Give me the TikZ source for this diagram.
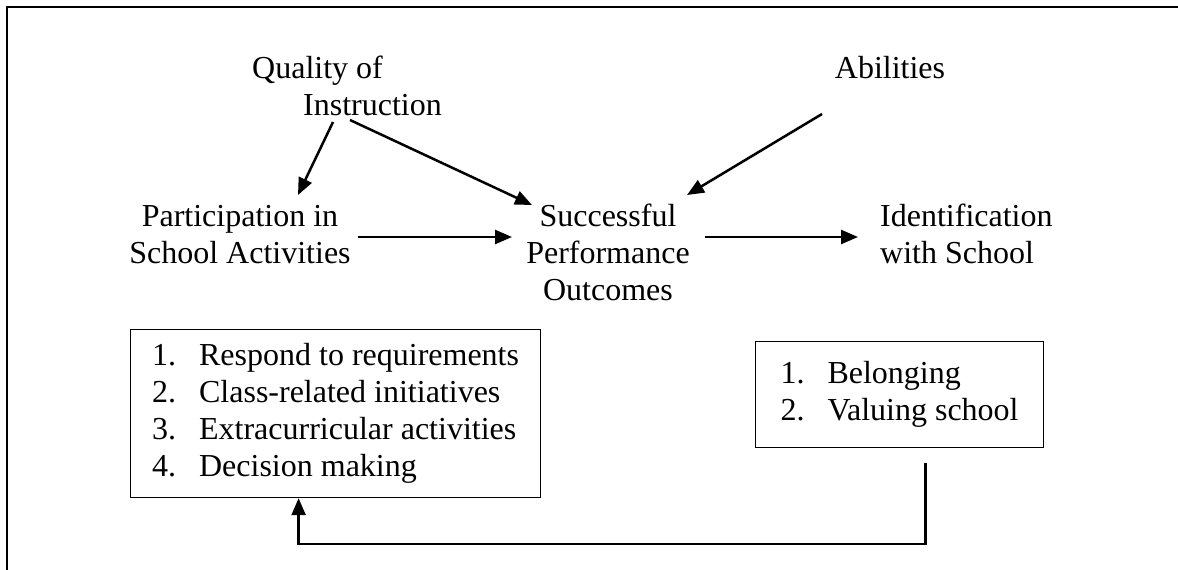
\documentclass[tikz,border=0pt]{standalone}
\usepackage{fontspec}
\setmainfont{Liberation Serif}
\usetikzlibrary{arrows.meta,calc}
\tikzset{
  txt/.style={inner sep=0pt, font=\fontsize{32}{37}\selectfont},
  arr/.style={line width=2.5pt, -{Triangle[length=17pt,width=14pt]}},
  frameline/.style={line width=2.5pt},
  listbox/.style={draw, line width=1.2pt, inner sep=0pt, font=\fontsize{32}{37}\selectfont, anchor=north west},
}
\newcommand{\itm}[2]{\makebox[47pt][l]{#1}#2}
\begin{document}
\begin{tikzpicture}[x=1pt,y=-1pt]
\useasboundingbox (0,0) rectangle (1178,570);
\draw[frameline] (1178,7) -- (7,7) -- (7,570);
\node[txt, anchor=base west] (qual) at (252,78) {\begin{tabular}[t]{@{}l@{}}Quality of\\\hspace{51pt}Instruction\end{tabular}};
\node[txt, anchor=base] (abil) at (890,78) {Abilities};
\node[txt, anchor=base] (part) at (240,226) {\begin{tabular}[t]{@{}c@{}}Participation in\\School Activities\end{tabular}};
\node[txt, anchor=base] (succ) at (608,226) {\begin{tabular}[t]{@{}c@{}}Successful\\Performance\\Outcomes\end{tabular}};
\node[txt, anchor=base west] (ident) at (880,226) {\begin{tabular}[t]{@{}l@{}}Identification\\with School\end{tabular}};
\node[listbox, minimum width=410pt, minimum height=168pt] (lbox) at (130,329) {\begin{tabular}{@{}l@{}}\itm{1.}{Respond to requirements}\\\itm{2.}{Class-related initiatives}\\\itm{3.}{Extracurricular activities}\\\itm{4.}{Decision making}\end{tabular}};
\node[listbox, minimum width=288pt, minimum height=106pt] (rbox) at (755,341) {\begin{tabular}{@{}l@{}}\itm{1.}{Belonging}\\\itm{2.}{Valuing school}\end{tabular}};
\draw[arr] ($(qual.base west)+(81,44)$) -- ($(part.base)+(58,-31)$);
\draw[arr] ($(qual.base west)+(98,42)$) -- ($(succ.base)+(-76,-21)$);
\draw[arr] ($(abil.base)+(-68,36)$) -- ($(succ.base)+(79,-31)$);
\draw[arr] ($(part.base)+(118,11)$) -- ($(succ.base)+(-96,11)$);
\draw[arr] ($(succ.base)+(97,11)$) -- ($(ident.base west)+(-22,11)$);
\coordinate (fb) at ($(rbox.south)+(26,15)$);
\coordinate (lb) at ($(lbox.south)+(-37,0)$);
\draw[arr] (fb) -- ++(0,81) -| (lb);
\end{tikzpicture}
\end{document}
